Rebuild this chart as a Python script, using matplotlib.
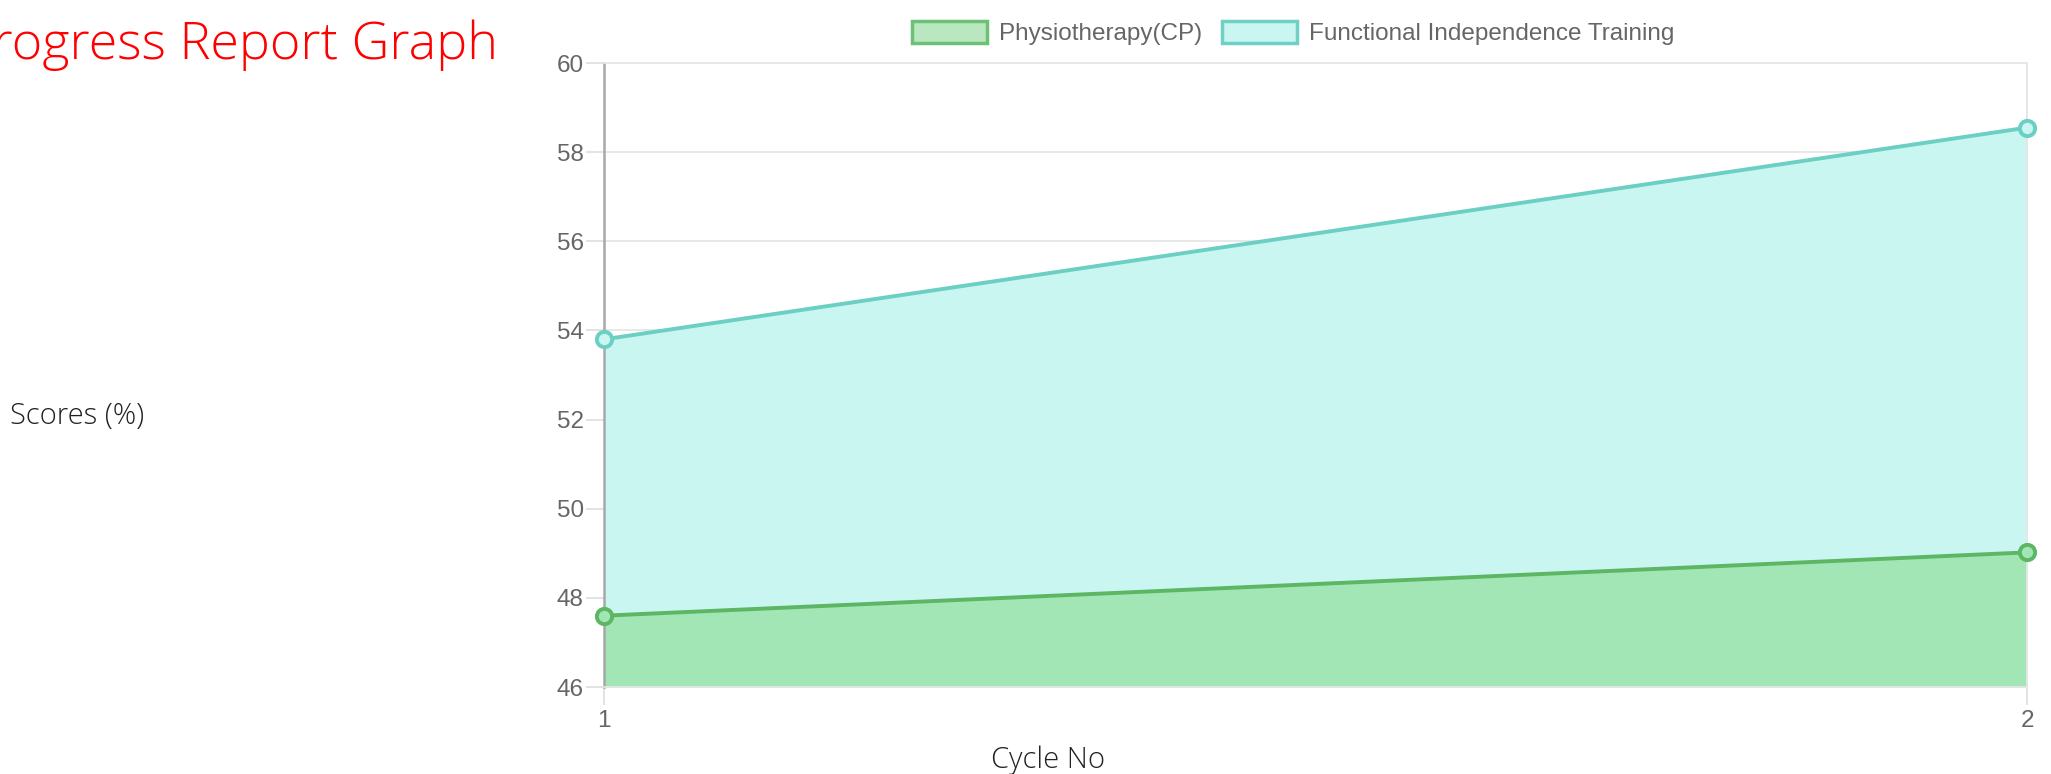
import matplotlib
matplotlib.use("Agg")
import matplotlib.pyplot as plt
from matplotlib.patches import Patch

cycles = [1, 2]
physio = [47.6, 49.02]
fit = [53.8, 58.55]
series_names = ["Physiotherapy(CP)", "Functional Independence Training"]
y_ticks = [46, 48, 50, 52, 54, 56, 58, 60]

W, H, DPI = 2051, 774, 100
fig = plt.figure(figsize=(W / DPI, H / DPI), dpi=DPI)
L, R, T, B = 604, 2027, 63, 687
ax = fig.add_axes([L / W, 1 - B / H, (R - L) / W, (B - T) / H])

green_line = "#5cb663"
green_fill = "#a1e6b4"
cyan_line = "#6ccfc4"
cyan_fill = "#c9f6f1"

ax.fill_between(cycles, fit, 46, color=cyan_fill, lw=0, zorder=1)
ax.plot(cycles, fit, color=cyan_line, lw=2.8, zorder=3, marker="o", ms=11,
        mfc=cyan_fill, mec=cyan_line, mew=2.8, clip_on=False)
ax.fill_between(cycles, physio, 46, color=green_fill, lw=0, zorder=2)
ax.plot(cycles, physio, color=green_line, lw=2.8, zorder=4, marker="o", ms=11,
        mfc=green_fill, mec=green_line, mew=2.8, clip_on=False)

ax.set_xlim(1, 2)
ax.set_ylim(46, 60)
ax.set_yticks(y_ticks)
ax.set_xticks(cycles)
ax.set_xticklabels([str(c) for c in cycles])
ax.grid(True, color="#e6e6e6", lw=1.3, zorder=0)
ax.set_axisbelow(True)
for s in ["top", "right", "bottom"]:
    ax.spines[s].set_color("#e6e6e6")
    ax.spines[s].set_linewidth(1.3)
ax.spines["left"].set_color("#a8a8a8")
ax.spines["left"].set_linewidth(1.8)
ax.tick_params(axis="y", length=13, width=1.3, color="#e0e0e0",
               labelsize=17.5, labelcolor="#666666", pad=1.5)
ax.tick_params(axis="x", length=13, width=1.3, color="#e0e0e0",
               labelsize=17.5, labelcolor="#666666", pad=3.5)
ax.xaxis.get_major_ticks()[0].tick1line.set_color("#a8a8a8")
for lab in ax.get_xticklabels() + ax.get_yticklabels():
    lab.set_fontfamily("Liberation Sans")

handles = [Patch(facecolor="#b9e8c0", edgecolor="#6ec077", lw=2.5),
           Patch(facecolor="#caf6f2", edgecolor="#6fd0c6", lw=2.5)]
leg = fig.legend(handles, series_names, loc="center", bbox_to_anchor=(1293 / W, 1 - 33 / H),
                 ncol=2, frameon=False, handlelength=3.1, handleheight=1.0,
                 handletextpad=0.5, columnspacing=0.8,
                 prop={"family": "Liberation Sans", "size": 17.5})
for t in leg.get_texts():
    t.set_color("#666666")

fig.text(498 / W, 1 - 59 / H, "Progress Report Graph", ha="right", va="baseline",
         color="#ff0000", fontsize=37.5, family="Open Sans", fontweight="light")
fig.text(10 / W, 1 - 416 / H, "Scores (%)", ha="left", va="center",
         color="#222222", fontsize=21, family="Open Sans", fontweight="light")
fig.text(1048 / W, 1 - 760 / H, "Cycle No", ha="center", va="center",
         color="#222222", fontsize=21, family="Open Sans", fontweight="light")

fig.savefig("out.png", dpi=DPI)
